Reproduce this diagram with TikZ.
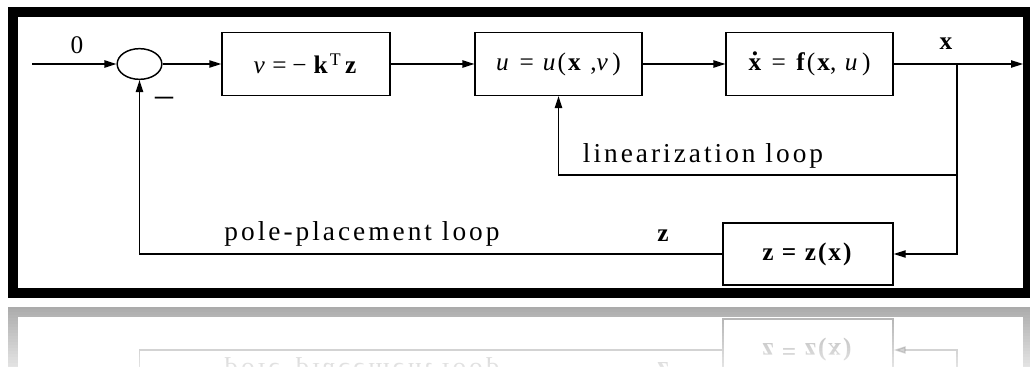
\documentclass[tikz,border=0pt]{standalone}
\usepackage{fontspec}
\setmainfont{Liberation Serif}[LetterSpace=8]
\newfontfamily\labelfont{Liberation Serif}[LetterSpace=11]
\usetikzlibrary{arrows.meta,shapes.geometric}

% bold x with a dot above it (time derivative)
\newcommand{\xdotbold}{\makebox[0pt][l]{\hspace{0.13em}\raisebox{0.58em}{\textbf{.}}}\textbf{x}}

% the whole framed block diagram; used once upright and once mirrored below
\newcommand{\blockdiagram}{%
  \draw[line width=7.5pt] (12.5,12.5) rectangle (1028,292.5);
  % blocks
  \node[sumnode] (sum) at (139.5,64) {};
  \node[block, minimum width=126pt] (ctrl) at (306,64)
    {\textit{v}\hspace{0.22em}=\hspace{0.22em}−\hspace{0.2em}\textbf{k}\textsuperscript{T}\hspace{0.15em}\textbf{z}};
  \node[block, minimum width=125pt] (lin) at (558.5,64)
    {\textit{u}\hspace{0.35em}=\hspace{0.35em}\textit{u}(\textbf{x}\hspace{0.3em},\textit{v}\hspace{0.1em})};
  \node[block, minimum width=125pt] (plant) at (809.5,64)
    {\xdotbold{} = \textbf{f}(\textbf{x}, \textit{u}\hspace{0.1em})};
  \node[block, minimum width=127.5pt, minimum height=46.5pt] (trans) at (808,254)
    {\textbf{z = z(x)}};
  % free ends and branch point
  \coordinate (in) at (32,64);
  \coordinate (out) at (1023,64);
  \coordinate (br) at (957,64);
  \coordinate (linloop) at (957,175);
  % connectors
  \draw[flow] (in) -- (sum.west);
  \draw[flow] (sum.east) -- (ctrl.west);
  \draw[flow] (ctrl.east) -- (lin.west);
  \draw[flow] (lin.east) -- (plant.west);
  \draw[flow] (plant.east) -- (out);
  \draw[flow] (br) -- (linloop) -| (lin.south);
  \draw[flow] (linloop) |- (trans.east);
  \draw[flow] (trans.west) -| (sum.south);
  % labels
  \node[lbl] (l0) at (77,45) {0};
  \node[lbl] (lx) at (947,44) {\textbf{x}};
  \node[lbl, font=\fontsize{27}{30}\selectfont] (lminus) at (164,102) {–};
  \node[lbl, font=\labelfont\fontsize{20.5}{24}\selectfont] (llin) at (703,156) {linearization loop};
  \node[lbl, font=\labelfont\fontsize{20.5}{24}\selectfont] (lpole) at (362,234) {pole-placement loop};
  \node[lbl] (lz) at (664,236) {\textbf{z}};
}

\begin{document}
\begin{tikzpicture}[
  x=0.75pt, y=-0.75pt,
  font=\fontsize{19}{22}\selectfont,
  block/.style={draw, line width=1.1pt, minimum height=47pt, inner sep=0pt},
  sumnode/.style={draw, ellipse, line width=1.1pt, minimum width=33.5pt, minimum height=23pt, inner sep=0pt},
  flow/.style={line width=1.1pt, -{Stealth[length=9pt,width=5.5pt,inset=0pt]}},
  lbl/.style={inner sep=0pt}
]
\useasboundingbox (0,0) rectangle (1030,367);
\fill[white] (0,0) rectangle (1030,367);

\blockdiagram

% faded mirror image under the frame
\begin{scope}
  \clip (0,297) rectangle (1030,367);
  \begin{scope}[shift={(0,604)}, yscale=-1, transform shape, opacity=0.35]
    \blockdiagram
  \end{scope}
  \foreach \i [evaluate=\i as \op using \i*0.032] in {0,...,22}
    \fill[white, opacity=\op] (0,300+3*\i) rectangle (1030,303+3*\i);
\end{scope}
\end{tikzpicture}
\end{document}
